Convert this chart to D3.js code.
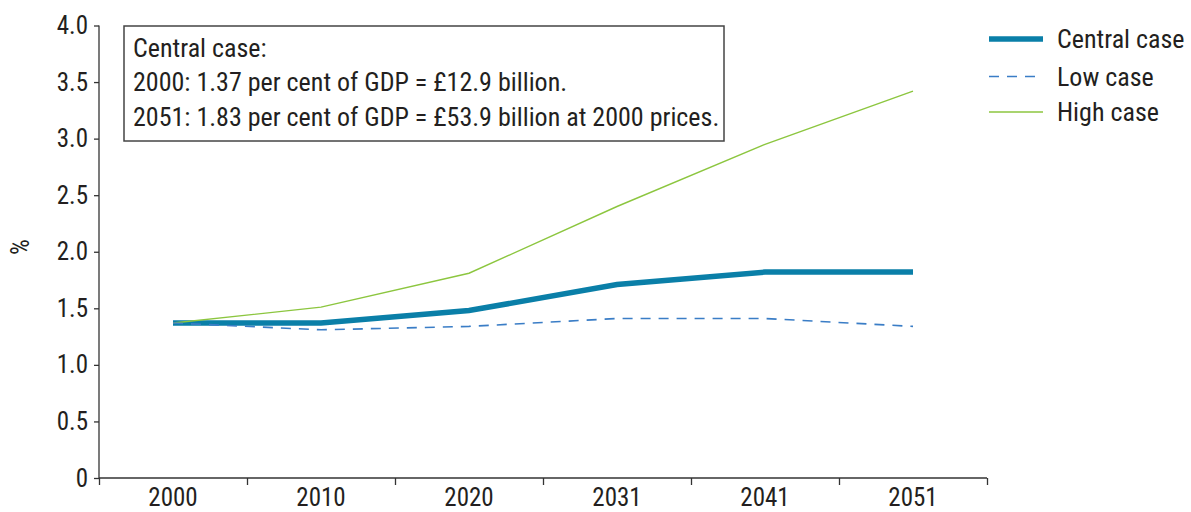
<!DOCTYPE html>
<html>
<head>
<meta charset="utf-8">
<script src="https://cdn.jsdelivr.net/npm/d3@7/dist/d3.min.js"></script>
<style>
  body { margin: 0; background: #fff; }
  svg text { font-family: "Liberation Sans Narrow", "Roboto Condensed", "DejaVu Sans Condensed", Roboto, sans-serif; fill: #231f20; }
</style>
</head>
<body>
<svg id="chart" width="1191" height="512"></svg>
<script>
const years = ["2000", "2010", "2020", "2031", "2041", "2051"];
const central = [1.37, 1.37, 1.48, 1.71, 1.82, 1.82];
const low = [1.37, 1.31, 1.34, 1.41, 1.41, 1.34];
const high = [1.37, 1.51, 1.81, 2.40, 2.95, 3.42];
const yTicks = [0, 0.5, 1.0, 1.5, 2.0, 2.5, 3.0, 3.5, 4.0];
const noteLines = [
  "Central case:",
  "2000: 1.37 per cent of GDP = £12.9 billion.",
  "2051: 1.83 per cent of GDP = £53.9 billion at 2000 prices."
];
const series = [
  { name: "Central case", values: central, color: "#0a7fa8", width: 5.5, dash: null },
  { name: "Low case", values: low, color: "#3a7dc6", width: 1.6, dash: "10,8" },
  { name: "High case", values: high, color: "#8cc63f", width: 1.4, dash: null }
];

const svg = d3.select("#chart");
const mLeft = 99, mRight = 987, mTop = 25.5, mBottom = 478;

const x = d3.scaleBand().domain(years).range([mLeft, mRight]);
const y = d3.scaleLinear().domain([0, 4]).range([mBottom, mTop]);
const edges = d3.scaleLinear().domain([0, years.length]).range([mLeft, mRight]);

// y axis
const yAxis = svg.append("g")
  .attr("transform", `translate(${mLeft},0)`)
  .call(d3.axisLeft(y).tickValues(yTicks).tickSize(5).tickPadding(6)
    .tickFormat(d => d === 0 ? "0" : d.toFixed(1)));
yAxis.select(".domain").attr("d", `M0,${mTop}V${mBottom}`);

// x axis: labels in the middle of each band, ticks on band edges
const xAxis = svg.append("g")
  .attr("transform", `translate(0,${mBottom})`)
  .call(d3.axisBottom(x).tickSize(0).tickPadding(10));
xAxis.select(".domain").remove();

svg.append("g")
  .attr("transform", `translate(0,${mBottom})`)
  .call(d3.axisBottom(edges).tickValues(d3.range(years.length + 1)).tickSize(7).tickFormat(""))
  .select(".domain").attr("d", `M${mLeft},0H${mRight}`);

svg.selectAll(".domain, .tick line").attr("stroke", "#333").attr("stroke-width", 1.3);
svg.selectAll(".tick text").attr("font-size", 25).attr("fill", "#231f20");

// y label
svg.append("text")
  .attr("transform", "translate(29,247) rotate(-90)")
  .attr("text-anchor", "middle")
  .attr("font-size", 25)
  .text("%");

// lines (thin ones over the thick one as in the original)
const line = d3.line()
  .x((d, i) => x(years[i]) + x.bandwidth() / 2)
  .y(d => y(d));

[series[0], series[2], series[1]].forEach(s => {
  svg.append("path")
    .datum(s.values)
    .attr("d", line)
    .attr("fill", "none")
    .attr("stroke", s.color)
    .attr("stroke-width", s.width)
    .attr("stroke-dasharray", s.dash);
});

// note box
const box = svg.append("g");
box.append("rect")
  .attr("x", 124).attr("y", 26)
  .attr("width", 600).attr("height", 115)
  .attr("fill", "#fff").attr("stroke", "#444").attr("stroke-width", 1.5);
box.selectAll("text")
  .data(noteLines)
  .join("text")
  .attr("x", 133)
  .attr("y", (d, i) => 56.5 + i * 34.5)
  .attr("font-size", 26)
  .text(d => d);

// legend
const legend = svg.append("g").attr("transform", "translate(989,39)");
const item = legend.selectAll("g")
  .data(series)
  .join("g")
  .attr("transform", (d, i) => `translate(0,${[0, 37.5, 73][i]})`);
item.append("line")
  .attr("x1", 0).attr("x2", 54)
  .attr("stroke", d => d.color)
  .attr("stroke-width", d => d.width)
  .attr("stroke-dasharray", d => d.dash);
item.append("text")
  .attr("x", 68).attr("dy", "0.35em")
  .attr("font-size", 26)
  .text(d => d.name);
</script>
</body>
</html>
